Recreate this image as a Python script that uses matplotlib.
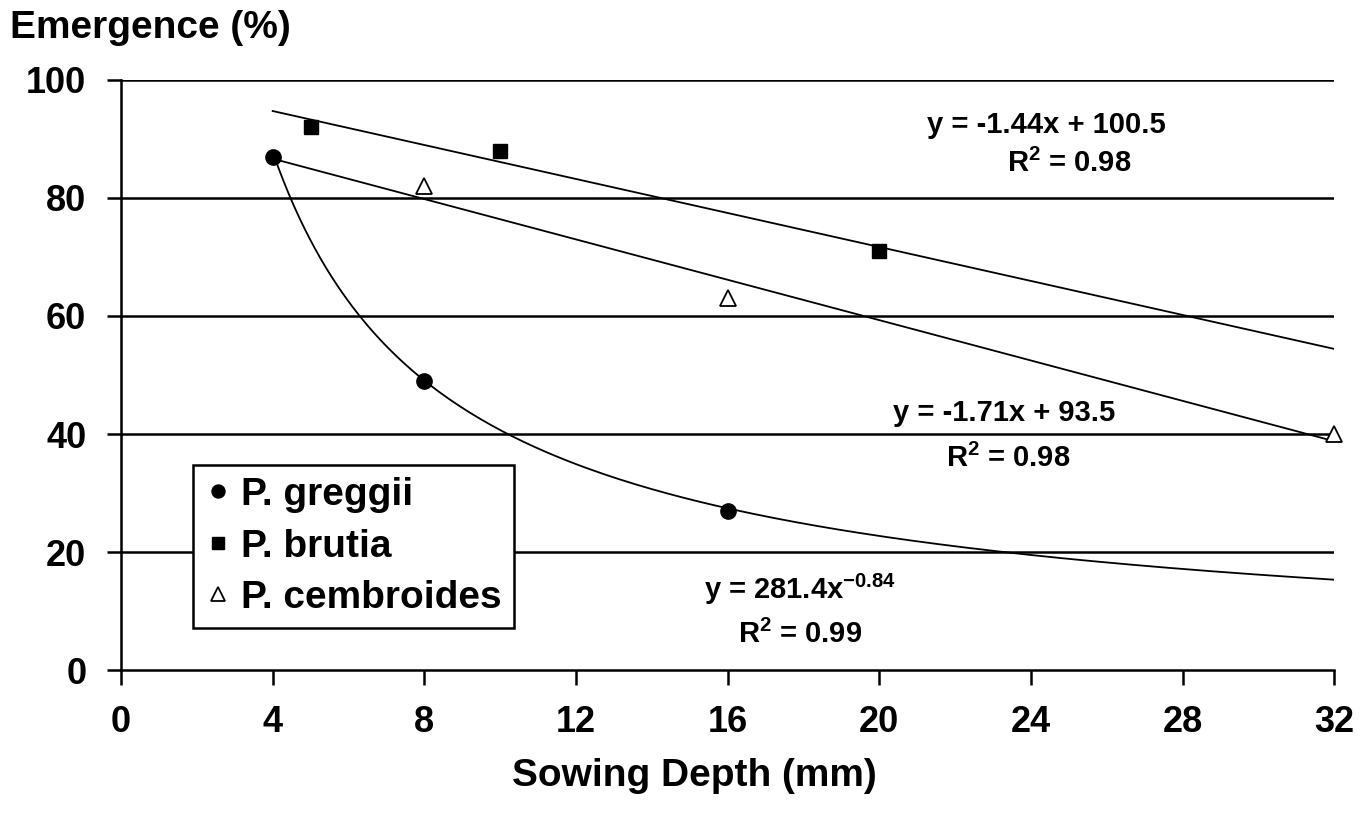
import matplotlib
matplotlib.use("Agg")
import matplotlib.pyplot as plt
import numpy as np

plt.rcParams['font.family'] = ['Liberation Sans', 'DejaVu Sans']
plt.rcParams['font.weight'] = 'bold'
plt.rcParams['mathtext.fontset'] = 'custom'
plt.rcParams['mathtext.rm'] = 'Liberation Sans:bold'
plt.rcParams['mathtext.default'] = 'rm'

# sowing depth (mm) and emergence (%) per species
greggii_x = [4, 8, 16]
greggii_y = [87, 49, 27]
brutia_x = [5, 10, 20]
brutia_y = [92, 88, 71]
cembroides_x = [8, 16, 32]
cembroides_y = [82, 63, 40]

# trendline coefficients shown on the chart
brutia_fit = (-1.44, 100.5)
cembroides_fit = (-1.71, 93.5)
greggii_fit = (281.4, -0.84)
fit_range = (4, 32)

x_ticks = [0, 4, 8, 12, 16, 20, 24, 28, 32]
y_ticks = [0, 20, 40, 60, 80, 100]

fig = plt.figure(figsize=(13.69, 8.27), dpi=100)
ax = fig.add_axes([0.0884, 0.1898, 0.8862, 0.7135])

for y in y_ticks[1:]:
    ax.axhline(y, color='black', lw=1.8, zorder=1)

xf = np.linspace(fit_range[0], fit_range[1], 200)
ax.plot(xf, brutia_fit[0] * xf + brutia_fit[1], color='black', lw=1.3, zorder=2)
ax.plot(xf, cembroides_fit[0] * xf + cembroides_fit[1], color='black', lw=1.3, zorder=2)
ax.plot(xf, greggii_fit[0] * xf ** greggii_fit[1], color='black', lw=1.3, zorder=2)

ax.plot(greggii_x, greggii_y, 'o', color='black', ms=11, ls='none', label='P. greggii',
        zorder=3, clip_on=False)
ax.plot(brutia_x, brutia_y, 's', color='black', ms=10, ls='none', label='P. brutia',
        zorder=3, clip_on=False)
ax.plot(cembroides_x, cembroides_y, '^', mfc='white', mec='black', mew=1.3, ms=12,
        ls='none', label='P. cembroides', zorder=3, clip_on=False)

ax.set_xlim(0, 32)
ax.set_ylim(0, 100)
ax.set_xticks(x_ticks)
ax.set_yticks(y_ticks)
ax.spines['top'].set_visible(False)
ax.spines['right'].set_visible(False)
for s in ('left', 'bottom'):
    ax.spines[s].set_linewidth(1.8)
ax.tick_params(axis='x', length=11, width=1.8, pad=14, labelsize=26)
ax.tick_params(axis='y', length=10, width=1.8, pad=15, labelsize=26)

fig.text(694 / 1369, 1 - 776 / 827, 'Sowing Depth (mm)', fontsize=28, fontweight='bold',
         ha='center', va='center')
fig.text(0.007, 1 - 28 / 827, 'Emergence (%)', fontsize=28, fontweight='bold',
         ha='left', va='center')

eq_kw = dict(fontsize=21, fontweight='bold', ha='center', va='center')
ax.text(24.4, 92.4, 'y = -1.44x + 100.5', **eq_kw)
ax.text(25.0, 85.9, 'R$^{2}$ = 0.98', **eq_kw)
ax.text(23.3, 43.6, 'y = -1.71x + 93.5', **eq_kw)
ax.text(23.4, 35.9, 'R$^{2}$ = 0.98', **eq_kw)
ax.text(17.9, 13.7, 'y = 281.4x$^{-0.84}$', **eq_kw)
ax.text(17.9, 6.1, 'R$^{2}$ = 0.99', **eq_kw)

leg = ax.legend(loc='upper left', bbox_to_anchor=(0.059, 0.347), fancybox=False,
                edgecolor='black', framealpha=1, prop={'size': 28, 'weight': 'bold'},
                handletextpad=0.25, handlelength=0.7, borderpad=0.3, labelspacing=0.4,
                markerscale=0.85, borderaxespad=0)
leg.get_frame().set_linewidth(1.8)
leg.set_zorder(5)

fig.savefig('out.png', dpi=100)
